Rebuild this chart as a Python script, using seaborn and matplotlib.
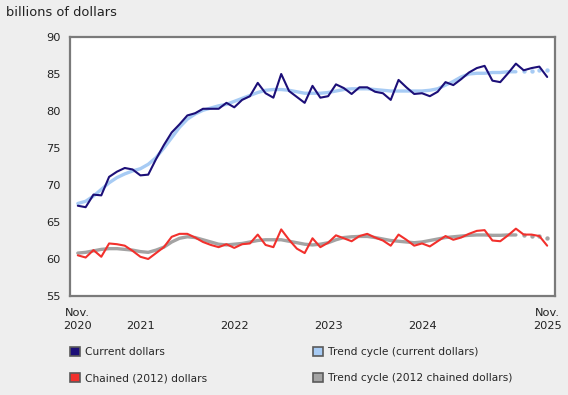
import numpy as np
import pandas as pd
import matplotlib
matplotlib.use("Agg")
import matplotlib.pyplot as plt
from matplotlib.patches import Patch
import seaborn as sns

# ── Data: monthly, Nov 2020 to Nov 2025 (billions of dollars) ─────────────
months = pd.period_range("2020-11", "2025-11", freq="M")

current = [67.2, 67.0, 68.7, 68.6, 71.1, 71.8, 72.3, 72.1, 71.3, 71.4, 73.5, 75.4,
           77.1, 78.2, 79.4, 79.7, 80.3, 80.3, 80.3, 81.1, 80.5, 81.5, 82.0, 83.8,
           82.4, 81.8, 85.0, 82.7, 81.9, 81.1, 83.4, 81.8, 82.0, 83.6, 83.1, 82.3,
           83.2, 83.2, 82.6, 82.4, 81.5, 84.2, 83.2, 82.3, 82.4, 82.0, 82.6, 83.9,
           83.5, 84.3, 85.2, 85.8, 86.1, 84.1, 83.9, 85.1, 86.4, 85.5, 85.8, 86.0,
           84.6]

trend_current = [67.5, 67.8, 68.5, 69.4, 70.3, 71.0, 71.5, 71.9, 72.2, 72.8, 73.7, 75.0,
                 76.4, 77.8, 78.9, 79.6, 80.1, 80.4, 80.7, 80.9, 81.3, 81.7, 82.1, 82.5,
                 82.8, 82.9, 82.9, 82.8, 82.6, 82.4, 82.4, 82.4, 82.5, 82.7, 82.9, 83.0,
                 83.0, 83.0, 82.9, 82.8, 82.7, 82.7, 82.7, 82.7, 82.7, 82.8, 83.0, 83.5,
                 84.0, 84.6, 85.0, 85.1, 85.1, 85.2, 85.2, 85.3, 85.3, 85.4, 85.4, 85.5,
                 85.5]

chained = [60.5, 60.2, 61.2, 60.3, 62.1, 62.0, 61.8, 61.1, 60.3, 60.0, 60.8, 61.6,
           63.0, 63.4, 63.4, 62.9, 62.3, 61.9, 61.6, 62.0, 61.5, 62.0, 62.1, 63.3,
           61.9, 61.6, 64.0, 62.6, 61.4, 60.8, 62.8, 61.6, 62.2, 63.2, 62.8, 62.4,
           63.1, 63.4, 62.9, 62.5, 61.8, 63.3, 62.6, 61.8, 62.1, 61.7, 62.4, 63.1,
           62.6, 62.9, 63.4, 63.8, 63.9, 62.5, 62.4, 63.2, 64.1, 63.3, 63.3, 63.1,
           61.8]

trend_chained = [60.8, 60.9, 61.1, 61.3, 61.4, 61.4, 61.3, 61.2, 61.0, 60.9, 61.2, 61.6,
                 62.3, 62.8, 63.0, 62.9, 62.6, 62.3, 62.0, 61.9, 62.0, 62.1, 62.3, 62.5,
                 62.6, 62.6, 62.6, 62.4, 62.2, 62.0, 61.9, 62.0, 62.2, 62.6, 62.9, 63.0,
                 63.05, 63.05, 62.9, 62.7, 62.5, 62.4, 62.3, 62.2, 62.3, 62.5, 62.7, 62.9,
                 63.0, 63.1, 63.2, 63.25, 63.25, 63.2, 63.2, 63.25, 63.25, 63.2, 63.05, 63.05,
                 62.8]

series_names = ["Current dollars", "Chained (2012) dollars",
                "Trend cycle (current dollars)", "Trend cycle (2012 chained dollars)"]
xtick_labels = ["Nov.\n2020", "\n2021", "\n2022", "\n2023", "\n2024", "Nov.\n2025"]

# ── Style ─────────────────────────────────────────────────────────────────
sns.set_style("white")
plt.rcParams["font.family"] = ["DejaVu Sans"]
plt.rcParams["font.size"] = 8.2

C_CUR = "#1c0f78"
C_TCUR = "#a7cbf4"
C_CHN = "#f2302c"
C_TCHN = "#a3a3a3"
C_AXIS = "#7a7a7a"
BG = "#eeeeee"

n_solid = 57  # last 4 trend months drawn as dots

df = pd.DataFrame({
    "idx": np.arange(len(months)),
    "month": months.month,
    "current": current,
    "trend_current": trend_current,
    "chained": chained,
    "trend_chained": trend_chained,
})

fig = plt.figure(figsize=(5.68, 3.95), dpi=100, facecolor=BG)
ax = fig.add_axes([70 / 568, 1 - 296 / 395, 485 / 568, 259 / 395])
ax.set_facecolor("white")

solid = df.iloc[:n_solid]
tail = df.iloc[n_solid:]

sns.lineplot(data=solid, x="idx", y="trend_current", color=C_TCUR, lw=2.4, ax=ax)
sns.lineplot(data=solid, x="idx", y="trend_chained", color=C_TCHN, lw=2.4, ax=ax)
sns.scatterplot(data=tail, x="idx", y="trend_current", color=C_TCUR, s=10,
                linewidth=0, ax=ax)
sns.scatterplot(data=tail, x="idx", y="trend_chained", color=C_TCHN, s=10,
                linewidth=0, ax=ax)
sns.lineplot(data=df, x="idx", y="current", color=C_CUR, lw=1.5, ax=ax)
sns.lineplot(data=df, x="idx", y="chained", color=C_CHN, lw=1.5, ax=ax)

# ── Axes ──────────────────────────────────────────────────────────────────
ax.set_xlim(-1, 61)
ax.set_ylim(55, 90)
ax.set_xlabel("")
ax.set_ylabel("")

for s in ax.spines.values():
    s.set_color(C_AXIS)
    s.set_linewidth(1.6)

ax.set_yticks(np.arange(55, 91, 5))
ax.tick_params(axis="y", direction="in", length=4, width=1, color=C_AXIS,
               pad=7, labelsize=8.2, labelcolor="#222222")

jan = df.loc[df["month"] == 1, "idx"].values
ax.set_xticks(jan)
ax.set_xticklabels([])
ax.set_xticks(df["idx"].values, minor=True)
ax.tick_params(axis="x", which="major", direction="in", length=11, width=1,
               color=C_AXIS)
ax.tick_params(axis="x", which="minor", direction="in", length=4, width=0.8,
               color=C_AXIS)

label_pos = [0, 8, 20, 32, 44, 60]
sec = ax.secondary_xaxis("bottom")
sec.set_xticks(label_pos)
sec.set_xticklabels(xtick_labels, linespacing=1.35)
sec.tick_params(length=0, pad=9, labelsize=8.2, labelcolor="#222222")
sec.spines["bottom"].set_visible(False)

fig.text(6 / 568, 1 - 12 / 395, "billions of dollars", ha="left", va="center",
         fontsize=9.4, color="#222222")

# ── Legend ────────────────────────────────────────────────────────────────
colors = [C_CUR, C_CHN, C_TCUR, C_TCHN]
handles = [Patch(facecolor=c, edgecolor="#5a5a5a", linewidth=1.2) for c in colors]
fig.legend(handles, series_names, ncol=2, loc="upper left",
           bbox_to_anchor=(60 / 568, 1 - 337 / 395), frameon=False,
           handlelength=1.0, handleheight=1.0, handletextpad=0.4,
           columnspacing=9.9, labelspacing=1.45, fontsize=7.7)

fig.savefig("out.png", dpi=100, facecolor=BG)
